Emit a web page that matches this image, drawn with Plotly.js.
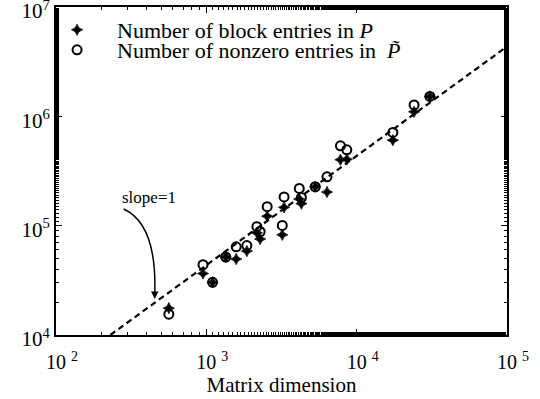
<!DOCTYPE html>
<html>
<head>
<meta charset="utf-8">
<script src="https://cdn.plot.ly/plotly-3.0.1.min.js"></script>
<style>html,body{margin:0;padding:0;background:#fff;}#chart{width:540px;height:399px;}</style>
</head>
<body>
<div id="chart"></div>
<script>
// Matrix dimensions (x) and the two measured counts
const matrixDim = [563, 950, 1100, 1345, 1580, 1860, 2170, 2280, 2540, 3200, 3290, 4150, 4290, 5300, 6350, 7800, 8600, 17400, 24100, 30700];
const blockEntries = [17600, 36500, 30300, 51700, 49500, 58500, 86000, 75500, 122000, 82500, 147000, 175000, 159000, 227000, 203000, 401000, 405000, 605000, 1100000, 1520000];
const nonzeroEntries = [15500, 44000, 30300, 51700, 64000, 65700, 98000, 88000, 149000, 100500, 183000, 219000, 181000, 227000, 280000, 537000, 494000, 712000, 1270000, 1520000];
// Reference line of slope 1 (endpoints)
const refLineX = [230, 100000];
const refLineY = [10000, 4350000];
// Tick labels
const xTickVals = [100, 1000, 10000, 100000];
const xTickText = ['10 <sup>2</sup>', '10 <sup>3</sup>', '10 <sup>4</sup>', '10 <sup>5</sup>'];
const yTickVals = [10000, 100000, 1000000, 10000000];
const yTickText = ['10<sup>4</sup>', '10<sup>5</sup>', '10<sup>6</sup>', '10<sup>7</sup>'];

const serif = 'Liberation Serif, Times New Roman, serif';

const traces = [
  {
    x: refLineX, y: refLineY, mode: 'lines', showlegend: false, hoverinfo: 'skip',
    line: {color: 'black', width: 2.2, dash: '6px,4px'}
  },
  {
    x: matrixDim, y: blockEntries, mode: 'markers', name: 'Number of block entries in <i>P</i>',
    legend: 'legend',
    marker: {symbol: 'star-diamond', size: 8, color: 'black', line: {color: 'black', width: 0.8}}
  },
  {
    x: matrixDim, y: nonzeroEntries, mode: 'markers', name: 'Number of nonzero entries in  <i>P\u0303</i>',
    legend: 'legend2',
    marker: {symbol: 'circle-open', size: 9, color: 'black', line: {color: 'black', width: 2}}
  }
];

const axisCommon = {
  type: 'log', tickmode: 'array',
  showgrid: false, zeroline: false,
  showline: true, linecolor: 'black', linewidth: 2, mirror: 'ticks',
  ticks: 'inside', ticklen: 6, tickwidth: 1, tickcolor: 'black',
  ticklabeloverflow: 'allow',
  minor: {ticks: 'inside', ticklen: 3, tickwidth: 1, tickcolor: 'black', showgrid: false, tickmode: 'auto'}
};

const legendCommon = {
  xanchor: 'left', yanchor: 'top', xref: 'paper', yref: 'paper',
  bgcolor: 'rgba(0,0,0,0)', borderwidth: 0,
  font: {family: serif, size: 22, color: 'black'},
  itemwidth: 70
};

const layout = {
  width: 540, height: 399,
  margin: {l: 56, r: 33, t: 7, b: 64},
  paper_bgcolor: 'white', plot_bgcolor: 'white',
  font: {family: serif, color: 'black'},
  xaxis: Object.assign({}, axisCommon, {
    range: [2, 5], tickvals: xTickVals, ticktext: xTickText,
    ticklabelstandoff: 8, ticklabelshift: 6,
    tickfont: {family: serif, size: 20, color: 'black'},
    title: {text: 'Matrix dimension', font: {family: serif, size: 21, color: 'black'}, standoff: 0}
  }),
  yaxis: Object.assign({}, axisCommon, {
    range: [4, 7], tickvals: yTickVals, ticktext: yTickText,
    ticklabelshift: 4,
    tickfont: {family: serif, size: 21, color: 'black'}
  }),
  showlegend: true,
  legend: Object.assign({}, legendCommon, {x: -0.042, y: 0.994}),
  legend2: Object.assign({}, legendCommon, {x: -0.042, y: 0.933}),
  shapes: [
    {
      type: 'path', xref: 'paper', yref: 'paper',
      path: 'M 0.150 0.384 C 0.205 0.350, 0.222 0.250, 0.219 0.125',
      line: {color: 'black', width: 1.5}
    }
  ],
  annotations: [
    {
      xref: 'paper', yref: 'paper', x: 0.1418, y: 0.418, text: 'slope=1', showarrow: false,
      font: {family: serif, size: 17, color: 'black'}
    },
    {
      xref: 'paper', yref: 'paper', x: 0.219, y: 0.110, text: '', showarrow: true,
      ax: 0, ay: -8, arrowhead: 2, arrowsize: 1, arrowwidth: 1.5, arrowcolor: 'black'
    }
  ]
};

Plotly.newPlot('chart', traces, layout, {displayModeBar: false, staticPlot: true});
</script>
</body>
</html>
